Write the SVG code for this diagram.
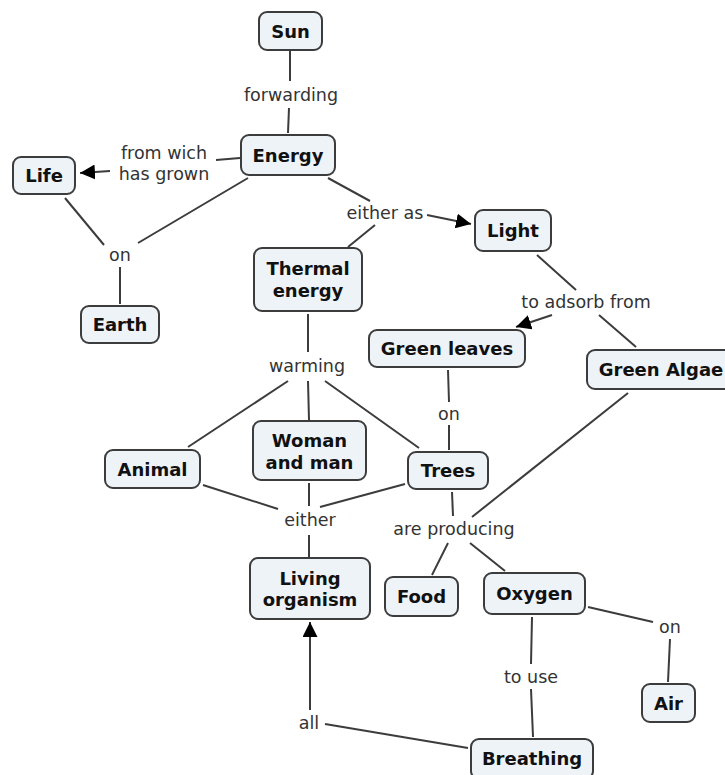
<svg xmlns="http://www.w3.org/2000/svg" width="725" height="775" viewBox="0 0 725 775">
<style>
.n rect{fill:#eef3f8;stroke:#3c3c3c;stroke-width:2}
.n text{font-family:"DejaVu Sans",Verdana,sans-serif;font-weight:bold;font-size:18px;fill:#111;text-anchor:middle;dominant-baseline:central}
.lb{font-family:"DejaVu Sans",Verdana,sans-serif;font-size:17.5px;fill:#333;text-anchor:middle;dominant-baseline:central}
#connectors line{stroke:#3c3c3c;stroke-width:2;fill:none}
</style>
<defs>
<marker id="ah" viewBox="0 0 10 10" refX="10" refY="5" markerWidth="7.5" markerHeight="7.5" markerUnits="strokeWidth" orient="auto">
<path d="M0,0 L10,5 L0,10 z" fill="#000"/>
</marker>
</defs>
<rect width="725" height="775" fill="#fff"/>
<g id="connectors">
<line x1="290" y1="51" x2="290" y2="81"/>
<line x1="289" y1="108" x2="288" y2="133"/>
<line x1="240" y1="158" x2="216" y2="160"/>
<line x1="110" y1="171" x2="80" y2="173" marker-end="url(#ah)"/>
<line x1="248" y1="178" x2="138" y2="243"/>
<line x1="65" y1="198" x2="104" y2="245"/>
<line x1="120" y1="267" x2="120" y2="304"/>
<line x1="328" y1="178" x2="370" y2="201"/>
<line x1="375" y1="225" x2="348" y2="247"/>
<line x1="427" y1="215" x2="471" y2="224" marker-end="url(#ah)"/>
<line x1="537" y1="255" x2="576" y2="290"/>
<line x1="552" y1="315" x2="516" y2="327" marker-end="url(#ah)"/>
<line x1="599" y1="315" x2="636" y2="347"/>
<line x1="448" y1="370" x2="449" y2="402"/>
<line x1="449" y1="425" x2="449" y2="450"/>
<line x1="628" y1="393" x2="472" y2="517"/>
<line x1="308" y1="314" x2="308" y2="352"/>
<line x1="288" y1="381" x2="188" y2="447"/>
<line x1="308" y1="381" x2="309" y2="420"/>
<line x1="325" y1="381" x2="419" y2="448"/>
<line x1="203" y1="485" x2="278" y2="509"/>
<line x1="309" y1="483" x2="309" y2="506"/>
<line x1="405" y1="484" x2="320" y2="507"/>
<line x1="309" y1="535" x2="309" y2="557"/>
<line x1="452" y1="492" x2="453" y2="516"/>
<line x1="448" y1="543" x2="432" y2="575"/>
<line x1="470" y1="543" x2="505" y2="571"/>
<line x1="588" y1="607" x2="653" y2="622"/>
<line x1="670" y1="639" x2="668" y2="682"/>
<line x1="532" y1="617" x2="531" y2="664"/>
<line x1="531" y1="689" x2="533" y2="737"/>
<line x1="468" y1="748" x2="325" y2="724"/>
<line x1="310" y1="710" x2="310" y2="622" marker-end="url(#ah)"/>
</g>
<g id="labels">
<text class="lb" x="291" y="95">forwarding</text>
<text class="lb" x="164" y="153">from wich</text>
<text class="lb" x="164" y="174">has grown</text>
<text class="lb" x="120" y="255">on</text>
<text class="lb" x="385" y="213">either as</text>
<text class="lb" x="586" y="302">to adsorb from</text>
<text class="lb" x="307" y="366">warming</text>
<text class="lb" x="449" y="414">on</text>
<text class="lb" x="310" y="520">either</text>
<text class="lb" x="454" y="529">are producing</text>
<text class="lb" x="670" y="627">on</text>
<text class="lb" x="531" y="677">to use</text>
<text class="lb" x="309" y="723">all</text>
</g>
<g id="sun" class="n"><rect x="259" y="12" width="63" height="38" rx="8"/><text x="290.5" y="31">Sun</text></g>
<g id="energy" class="n"><rect x="241" y="135" width="94" height="40" rx="8"/><text x="288" y="155">Energy</text></g>
<g id="life" class="n"><rect x="13" y="157" width="62" height="37" rx="8"/><text x="44" y="175.5">Life</text></g>
<g id="earth" class="n"><rect x="81" y="306" width="78" height="37" rx="8"/><text x="120" y="324.5">Earth</text></g>
<g id="thermal" class="n"><rect x="254" y="248" width="108" height="63" rx="8"/><text x="308" y="268">Thermal</text><text x="308" y="290">energy</text></g>
<g id="light" class="n"><rect x="475" y="210" width="76" height="41" rx="8"/><text x="513" y="230.5">Light</text></g>
<g id="greenleaves" class="n"><rect x="369" y="330" width="156" height="37" rx="8"/><text x="447" y="348.5">Green leaves</text></g>
<g id="greenalgae" class="n"><rect x="587" y="350" width="145" height="39" rx="8"/><text x="661" y="369.5">Green Algae</text></g>
<g id="animal" class="n"><rect x="105" y="450" width="95" height="38" rx="8"/><text x="152.5" y="469">Animal</text></g>
<g id="womanman" class="n"><rect x="253" y="421" width="113" height="59" rx="8"/><text x="309.5" y="440">Woman</text><text x="309.5" y="462">and man</text></g>
<g id="trees" class="n"><rect x="408" y="452" width="80" height="37" rx="8"/><text x="448" y="470.5">Trees</text></g>
<g id="living" class="n"><rect x="250" y="558" width="120" height="61" rx="8"/><text x="310" y="578">Living</text><text x="310" y="599">organism</text></g>
<g id="food" class="n"><rect x="385" y="577" width="73" height="39" rx="8"/><text x="421.5" y="596.5">Food</text></g>
<g id="oxygen" class="n"><rect x="484" y="573" width="101" height="41" rx="8"/><text x="534.5" y="593">Oxygen</text></g>
<g id="air" class="n"><rect x="642" y="684" width="53" height="38" rx="8"/><text x="668.5" y="703">Air</text></g>
<g id="breathing" class="n"><rect x="471" y="739" width="122" height="40" rx="8"/><text x="532" y="758">Breathing</text></g>
</svg>
